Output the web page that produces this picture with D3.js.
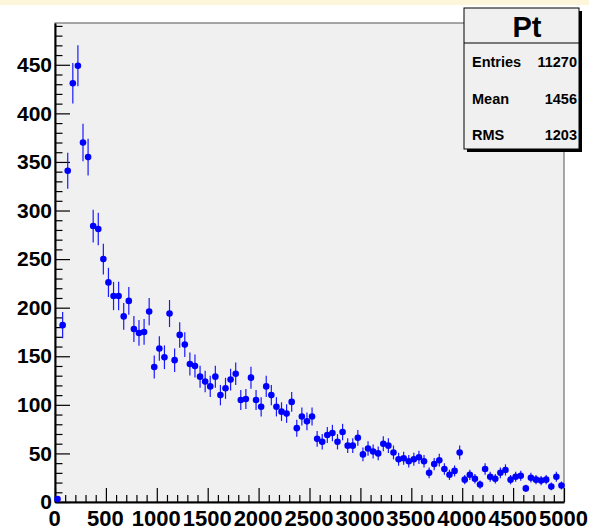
<!DOCTYPE html>
<html><head><meta charset="utf-8">
<script src="https://cdn.jsdelivr.net/npm/d3@7"></script>
<style>body{margin:0;background:#fff}svg{display:block}text{font-family:"Liberation Sans",Arial,sans-serif;font-weight:bold}</style>
</head><body><svg id="c" width="589" height="527"></svg>
<script>
const binWidth = 50;
const xDomain = [0, 5000];
const yDomain = [0, 493];
const counts = [3,182,341,431,449,370,355,284,281,250,
226,212,212,191,207,178,174,175,196,139,
158,149,194,146,172,162,142,140,129,124,
119,129,110,117,126,132,105,106,128,105,
98,119,110,98,93,91,103,76,88,83,
88,65,62,69,71,62,72,58,58,66,
49,55,52,50,60,58,51,44,45,42,
44,46,42,30,39,43,34,28,32,51,
23,28,24,18,34,26,24,30,33,23,
26,27,14,25,23,22,23,16,26,17];
const xMajorTicks = [0,500,1000,1500,2000,2500,3000,3500,4000,4500,5000];
const yMajorTicks = [0,50,100,150,200,250,300,350,400,450];
const statsTitle = "Pt";
const statsLabels = ["Entries","Mean","RMS"];
const statsValues = ["11270","1456","1203"];

const svg = d3.select("#c");
const L = 55, R = 564, T = 23, B = 502;
svg.append("rect").attr("x",0).attr("y",0).attr("width",589).attr("height",527).attr("fill","#fff");
svg.append("rect").attr("x",0).attr("y",0).attr("width",589).attr("height",5).attr("fill","#fdf6da");

const x = d3.scaleLinear().domain(xDomain).range([L, R]);
const y = d3.scaleLinear().domain(yDomain).range([B, T]);

svg.append("rect").attr("x",L).attr("y",T).attr("width",R-L).attr("height",B-T)
  .attr("fill","#f0f0f0").attr("stroke","#555").attr("stroke-width",1);

// minor ticks
const xMinor = d3.range(0, 5001, 100).filter(v => v % 500 !== 0);
const yMinor = d3.range(0, 491, 10).filter(v => v % 50 !== 0);
svg.append("g").attr("transform",`translate(0,${B})`)
  .call(d3.axisBottom(x).tickValues(xMinor).tickSizeInner(-7).tickSizeOuter(0).tickFormat(""))
  .call(g=>g.select(".domain").remove());
svg.append("g").attr("transform",`translate(${L},0)`)
  .call(d3.axisLeft(y).tickValues(yMinor).tickSizeInner(-7.5).tickSizeOuter(0).tickFormat(""))
  .call(g=>g.select(".domain").remove());

const xAxis = svg.append("g").attr("transform",`translate(0,${B})`)
  .call(d3.axisBottom(x).tickValues(xMajorTicks).tickSizeInner(-14).tickSizeOuter(0).tickPadding(8).tickFormat(d3.format("d")));
xAxis.selectAll("text").attr("font-size",22).attr("fill","#000").attr("dx",-1);
const yAxis = svg.append("g").attr("transform",`translate(${L},0)`)
  .call(d3.axisLeft(y).tickValues(yMajorTicks).tickSizeInner(-15).tickSizeOuter(0).tickPadding(3).tickFormat(d3.format("d")));
yAxis.selectAll("text").attr("font-size",21).attr("fill","#000");
svg.selectAll(".tick line").attr("stroke","#000").attr("stroke-width",1.2);
svg.selectAll(".domain").attr("stroke","#000").attr("stroke-width",2);

// data
const pts = counts.map((c,i)=>({xc:(i+0.5)*binWidth, v:c, e:Math.sqrt(c)}));
svg.append("g").selectAll("line").data(pts).join("line")
  .attr("x1",d=>x(d.xc)).attr("x2",d=>x(d.xc))
  .attr("y1",d=>y(d.v+d.e)).attr("y2",d=>y(Math.max(0,d.v-d.e)))
  .attr("stroke","#1a1aff").attr("stroke-width",1.2);
svg.append("g").selectAll("circle").data(pts).join("circle")
  .attr("cx",d=>x(d.xc)).attr("cy",d=>y(d.v)).attr("r",3.3).attr("fill","#0000ff");

// stats box
const bx=464, by=8, bw=115, bh=141;
svg.append("rect").attr("x",bx+3).attr("y",by+3).attr("width",bw).attr("height",bh).attr("fill","#000");
svg.append("rect").attr("x",bx).attr("y",by).attr("width",bw).attr("height",bh).attr("fill","#f0f0f0").attr("stroke","#000").attr("stroke-width",1);
svg.append("line").attr("x1",bx).attr("x2",bx+bw).attr("y1",43).attr("y2",43).attr("stroke","#000");
svg.append("text").attr("x",527).attr("y",37).attr("text-anchor","middle").attr("font-size",29).text(statsTitle);
const rowY=[67,103.7,140.3];
statsLabels.forEach((s,i)=>{
  svg.append("text").attr("x",472).attr("y",rowY[i]).attr("font-size",14.5).text(s);
  svg.append("text").attr("x",577).attr("y",rowY[i]).attr("text-anchor","end").attr("font-size",14.5).text(statsValues[i]);
});
</script></body></html>
